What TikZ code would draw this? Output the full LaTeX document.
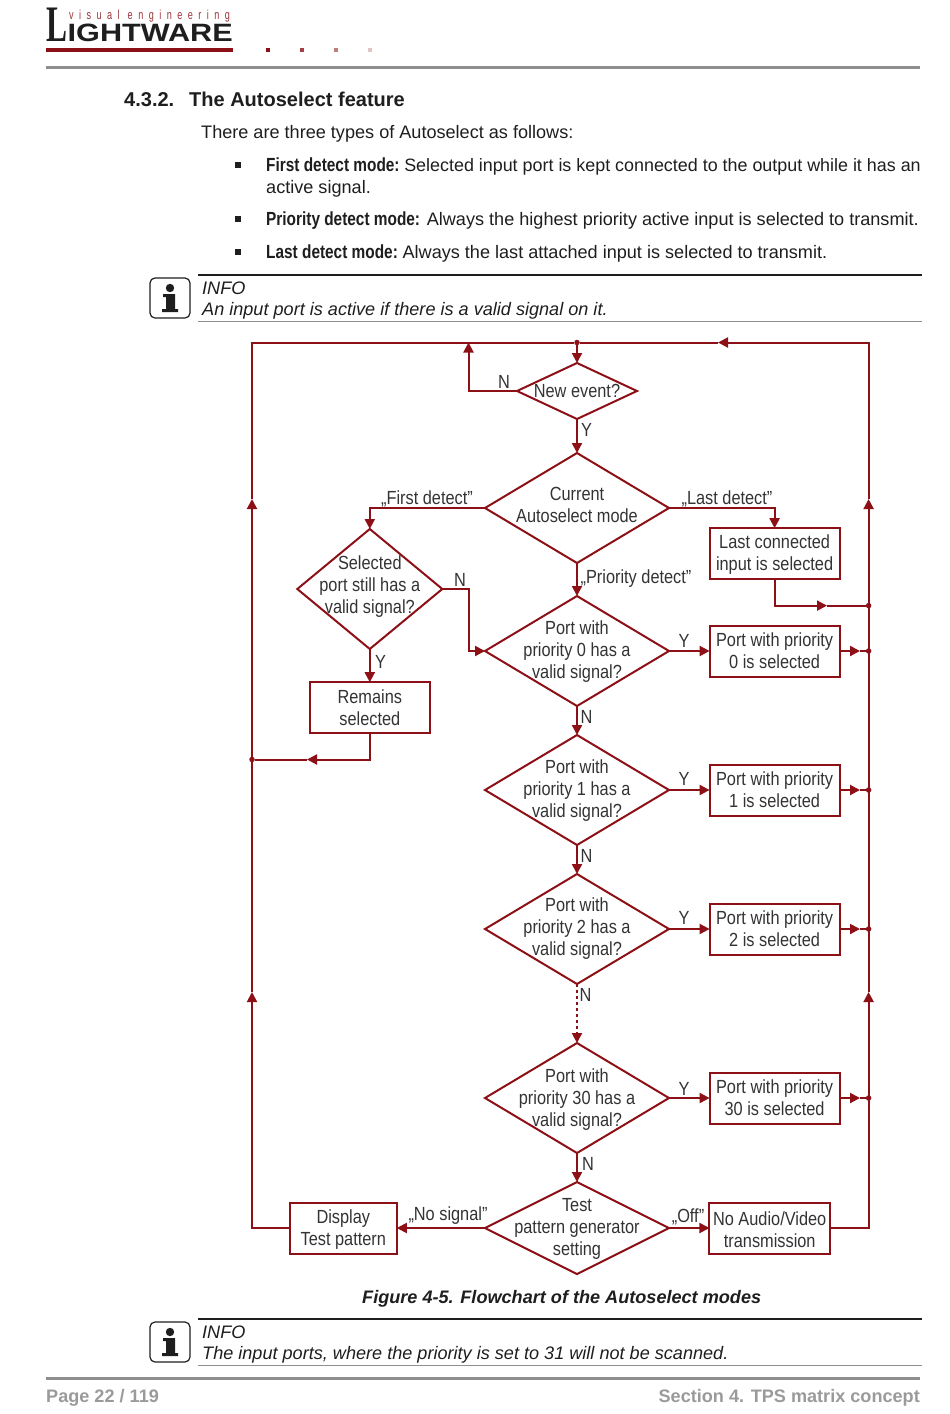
\documentclass[tikz,border=0pt]{standalone}
\usepackage{fontspec}
\setmainfont{Liberation Sans}
\newfontfamily\condf[FakeStretch=0.86]{Liberation Sans}
\newfontfamily\condbf[FakeStretch=0.81]{Liberation Sans}
\newfontfamily\logospaced[FakeStretch=0.7,LetterSpace=42]{Liberation Sans}
\newfontfamily\logoserif{Liberation Serif}
\usetikzlibrary{shapes.geometric,arrows.meta}
\definecolor{flow}{HTML}{8C1016}
\definecolor{ink}{HTML}{1E1E1E}
\definecolor{chartink}{HTML}{333333}
\definecolor{rulegray}{HTML}{8F8F8F}
\definecolor{footgray}{HTML}{9A9A9A}
\tikzset{
  x=1pt,y=-1pt,
  flowline/.style={draw=flow,line width=2pt},
  arr/.style={flowline,-{Triangle[length=10pt,width=10pt,color=flow]}},
  dia/.style={diamond,draw=flow,line width=2pt,inner sep=0pt,outer sep=0pt,aspect=1.6},
  pbox/.style={rectangle,draw=flow,line width=2pt,inner sep=0pt,outer sep=0pt,align=center,text=chartink,font=\chartfont},
  dtext/.style={inner sep=0pt,align=center,text=chartink,font=\chartfont},
  lab/.style={inner sep=0pt,text=chartink,font=\chartfont},
  dot/.style={circle,fill=flow,inner sep=0pt,minimum size=5.5pt},
  txt/.style={anchor=base west,inner sep=0pt,text=ink,font=\bodyfont},
  infoline/.style={anchor=base west,inner sep=0pt,text=ink,font=\bodyfont\itshape},
  foot/.style={inner sep=0pt,text=footgray,font=\fontsize{18.1}{22}\selectfont\bfseries},
  bullet/.style={rectangle,fill=ink,inner sep=0pt,minimum size=5.5pt},
  iconbox/.style={rectangle,draw=ink,line width=1.2pt,rounded corners=5pt,minimum size=40pt,inner sep=0pt},
}
\newcommand{\chartfont}{\fontsize{19}{22}\condf\selectfont}
\newcommand{\bodyfont}{\fontsize{18.1}{22}\selectfont}
\newcommand{\leadin}[1]{{\fontsize{19}{22}\condbf\bfseries #1}}
\newcommand{\infoicon}[3]{%
  \node[iconbox] (#1) at (#2,#3) {};
  \fill[ink] (#2,#3-10) circle (4.2);
  \fill[ink] (#2-7,#3-4) -- (#2+5,#3-4) -- (#2+5,#3+11) -- (#2+8,#3+11) -- (#2+8,#3+14) -- (#2-8,#3+14) -- (#2-8,#3+11) -- (#2-4,#3+11) -- (#2-4,#3-1) -- (#2-7,#3-1) -- cycle;
}
\begin{document}
\begin{tikzpicture}
\useasboundingbox (0,0) rectangle (950,1414);
% ---- header
\node[anchor=base west,inner sep=0pt,text=ink] (logoL) at (46,41.6) {\resizebox{21pt}{33.5pt}{\logoserif\bfseries L}};
\node[anchor=base west,inner sep=0pt,text=ink] (logoW) at (67.5,41.6) {\resizebox{165pt}{17.5pt}{\bfseries IGHTWARE}};
\node[anchor=base west,inner sep=0pt,text=flow!85] (logoV) at (69,19.5) {\fontsize{13}{14}\logospaced visual engineering};
\fill[flow] (46,48) rectangle (233,51.5);
\fill[flow] (266,48) rectangle (270,51.5);
\fill[flow!80] (300,48) rectangle (304,51.5);
\fill[flow!55] (334,48) rectangle (338,51.5);
\fill[flow!25] (368,48) rectangle (372,51.5);
\fill[rulegray] (46,65.5) rectangle (920,69);
% ---- text
\node[txt,font=\fontsize{20}{24}\selectfont\bfseries] (secnum) at (124,106) {4.3.2.};
\node[txt,font=\fontsize{20}{24}\selectfont\bfseries] (sectitle) at (189,106) {The Autoselect feature};
\node[txt] (intro) at (201,138) {There are three types of Autoselect as follows:};
\node[bullet] (b1) at (238,165) {};
\node[bullet] (b2) at (238,219) {};
\node[bullet] (b3) at (238,252) {};
\node[txt] (t1) at (266,171) {\leadin{First detect mode:} \hspace{-2pt}{\fontsize{17.9}{22}\selectfont Selected input port is kept connected to the output while it has an}};
\node[txt] (t1b) at (266,193) {active signal.};
\node[txt] (t2) at (266,225) {\leadin{Priority detect mode:} Always the highest priority active input is selected to transmit.};
\node[txt] (t3) at (266,258) {\leadin{Last detect mode:} \hspace{-2pt}Always the last attached input is selected to transmit.};
% ---- info 1
\draw[ink,line width=1.3pt] (198,275) -- (922,275);
\draw[rulegray,line width=.9pt] (198,321) -- (922,321);
\infoicon{icon1}{170}{298}
\node[infoline] (i1a) at (202,294) {INFO};
\node[infoline] (i1b) at (202,315) {An input port is active if there is a valid signal on it.};
% ---- chart nodes
\node[dia,minimum width=120pt,minimum height=56pt,label={[dtext]center:New event?}] (nev) at (577,391) {};
\node[dia,minimum width=184pt,minimum height=110pt,label={[dtext,yshift=3pt]center:Current\\Autoselect mode}] (cur) at (577,508) {};
\node[dia,minimum width=145pt,minimum height=120pt,label={[dtext,yshift=2pt]center:Selected\\port still has a\\valid signal?}] (sel) at (369.8,589) {};
\node[pbox,minimum width=130pt,minimum height=51pt,label={[dtext,yshift=-1pt]center:Last connected\\input is selected}] (last) at (774.6,553.7) {};
\node[pbox,minimum width=120.5pt,minimum height=51pt] (rem) at (369.8,707.7) {Remains\\selected};
\node[dia,minimum width=184pt,minimum height=110pt,label={[dtext,yshift=-1pt]center:Port with\\priority 0 has a\\valid signal?}] (p0) at (577,651) {};
\node[dia,minimum width=184pt,minimum height=110pt,label={[dtext,yshift=-1pt]center:Port with\\priority 1 has a\\valid signal?}] (p1) at (577,790) {};
\node[dia,minimum width=184pt,minimum height=110pt,label={[dtext]center:Port with\\priority 2 has a\\valid signal?}] (p2) at (577,929) {};
\node[dia,minimum width=184pt,minimum height=110pt,label={[dtext,yshift=-2pt]center:Port with\\priority 30 has a\\valid signal?}] (p30) at (577,1098) {};
\node[pbox,minimum width=130pt,minimum height=51pt] (s0) at (774.6,651) {Port with priority\\0 is selected};
\node[pbox,minimum width=130pt,minimum height=51pt] (s1) at (774.6,790) {Port with priority\\1 is selected};
\node[pbox,minimum width=130pt,minimum height=51pt] (s2) at (774.6,929) {Port with priority\\2 is selected};
\node[pbox,minimum width=130pt,minimum height=51pt] (s30) at (774.6,1098) {Port with priority\\30 is selected};
\node[dia,minimum width=184pt,minimum height=92pt,label={[dtext,yshift=-1pt]center:Test\\pattern generator\\setting}] (tst) at (577,1228) {};
\node[pbox,minimum width=107pt,minimum height=51pt,label={[dtext,yshift=-2pt]center:Display\\Test pattern}] (disp) at (343.3,1228) {};
\node[pbox,minimum width=120.5pt,minimum height=51pt,label={[dtext,yshift=-2pt]center:No Audio/Video\\transmission}] (noav) at (769.7,1228) {};
% ---- routing points
\coordinate (topL) at (252,342.5);
\coordinate (topR) at (868.6,342.5);
\node[dot] (jtop) at (577,342.5) {};
\node[dot] (jrem) at (252,759.5) {};
\node[dot] (jlast) at (868.6,605.6) {};
\node[dot] (j0) at (868.6,651) {};
\node[dot] (j1) at (868.6,790) {};
\node[dot] (j2) at (868.6,929) {};
\node[dot] (j30) at (868.6,1098) {};
\coordinate (nevLoop) at (468.5,391);
\coordinate (nevTop) at (468.5,342.5);
\coordinate (botL) at (252,1228);
\coordinate (botR) at (868.6,1228);
\coordinate (midL1) at (252,992);
\coordinate (midL2) at (252,499);
\coordinate (midR1) at (868.6,992);
\coordinate (midR2) at (868.6,499);
\coordinate (midTop) at (718,342.5);
\coordinate (remBend) at (369.8,759.5);
\coordinate (remMid) at (307,759.5);
\coordinate (lastBend) at (774.6,605.6);
\coordinate (lastMid) at (827,605.6);
\coordinate (selA) at (468.5,589);
\coordinate (selB) at (468.5,651);
\coordinate (firstBend) at (369.8,508);
\coordinate (lastBendTop) at (774.6,508);
\coordinate (m0) at (860,651);
\coordinate (m1) at (860,790);
\coordinate (m2) at (860,929);
\coordinate (m30) at (860,1098);
% ---- connectors
\draw[arr] (jtop) -- (nev.north);
\draw[arr] (nev.west) -- (nevLoop) -- (nevTop);
\draw[arr] (nev.south) -- (cur.north);
\draw[arr] (cur.west) -- (firstBend) -- (sel.north);
\draw[arr] (cur.east) -- (lastBendTop) -- (last.north);
\draw[arr] (cur.south) -- (p0.north);
\draw[arr] (sel.east) -- (selA) -- (selB) -- (p0.west);
\draw[arr] (sel.south) -- (rem.north);
\draw[arr] (rem.south) -- (remBend) -- (remMid);
\draw[flowline] (remMid) -- (jrem);
\draw[arr] (last.south) -- (lastBend) -- (lastMid);
\draw[flowline] (lastMid) -- (jlast);
\draw[arr] (p0.east) -- (s0.west);
\draw[arr] (p1.east) -- (s1.west);
\draw[arr] (p2.east) -- (s2.west);
\draw[arr] (p30.east) -- (s30.west);
\draw[arr] (s0.east) -- (m0); \draw[flowline] (m0) -- (j0);
\draw[arr] (s1.east) -- (m1); \draw[flowline] (m1) -- (j1);
\draw[arr] (s2.east) -- (m2); \draw[flowline] (m2) -- (j2);
\draw[arr] (s30.east) -- (m30); \draw[flowline] (m30) -- (j30);
\draw[arr] (p0.south) -- (p1.north);
\draw[arr] (p1.south) -- (p2.north);
\draw[arr,dash pattern=on 3pt off 3pt] (p2.south) -- (p30.north);
\draw[arr] (p30.south) -- (tst.north);
\draw[arr] (tst.west) -- (disp.east);
\draw[arr] (tst.east) -- (noav.west);
\draw[arr] (disp.west) -- (botL) -- (midL1);
\draw[arr] (midL1) -- (midL2);
\draw[flowline] (midL2) -- (topL) -- (jtop);
\draw[arr] (noav.east) -- (botR) -- (midR1);
\draw[arr] (midR1) -- (midR2);
\draw[arr] (midR2) -- (topR) -- (midTop);
\draw[flowline] (midTop) -- (jtop);
% ---- labels
\node[lab] (ln1) at (504,382) {N};
\node[lab] (ly1) at (586.5,429.5) {Y};
\node[lab] (lfd) at (427,498.5) {„First detect”};
\node[lab] (lld) at (727,498.5) {„Last detect”};
\node[lab] (lpd) at (636,578.5) {„Priority detect”};
\node[lab] (ln2) at (460,580) {N};
\node[lab] (ly2) at (380.5,662) {Y};
\node[lab] (ly3) at (684,641) {Y};
\node[lab] (ln3) at (586.5,717) {N};
\node[lab] (ly4) at (684,779) {Y};
\node[lab] (ln4) at (586.5,856) {N};
\node[lab] (ly5) at (684,918) {Y};
\node[lab] (ln5) at (585.5,995) {N};
\node[lab] (ly6) at (684,1089) {Y};
\node[lab] (ln6) at (588,1164) {N};
\node[lab] (lns) at (448,1216) {„No signal”};
\node[lab] (lof) at (688,1217) {„Off”};
% ---- caption, info 2, footer
\node[txt,font=\fontsize{18.1}{22}\selectfont\bfseries\itshape] (cap) at (362,1303.5) {Figure 4-5. Flowchart of the Autoselect modes};
\draw[ink,line width=1.3pt] (198,1319) -- (922,1319);
\draw[rulegray,line width=.9pt] (198,1365) -- (922,1365);
\infoicon{icon2}{170}{1342}
\node[infoline] (i2a) at (202,1338) {INFO};
\node[infoline] (i2b) at (202,1359) {The input ports, where the priority is set to 31 will not be scanned.};
\fill[rulegray] (46,1376.5) rectangle (920,1380);
\node[foot,anchor=base west] (fl) at (46,1402) {Page 22 / 119};
\node[foot,anchor=base east] (fr) at (920,1402) {Section 4. TPS matrix concept};
\end{tikzpicture}
\end{document}
